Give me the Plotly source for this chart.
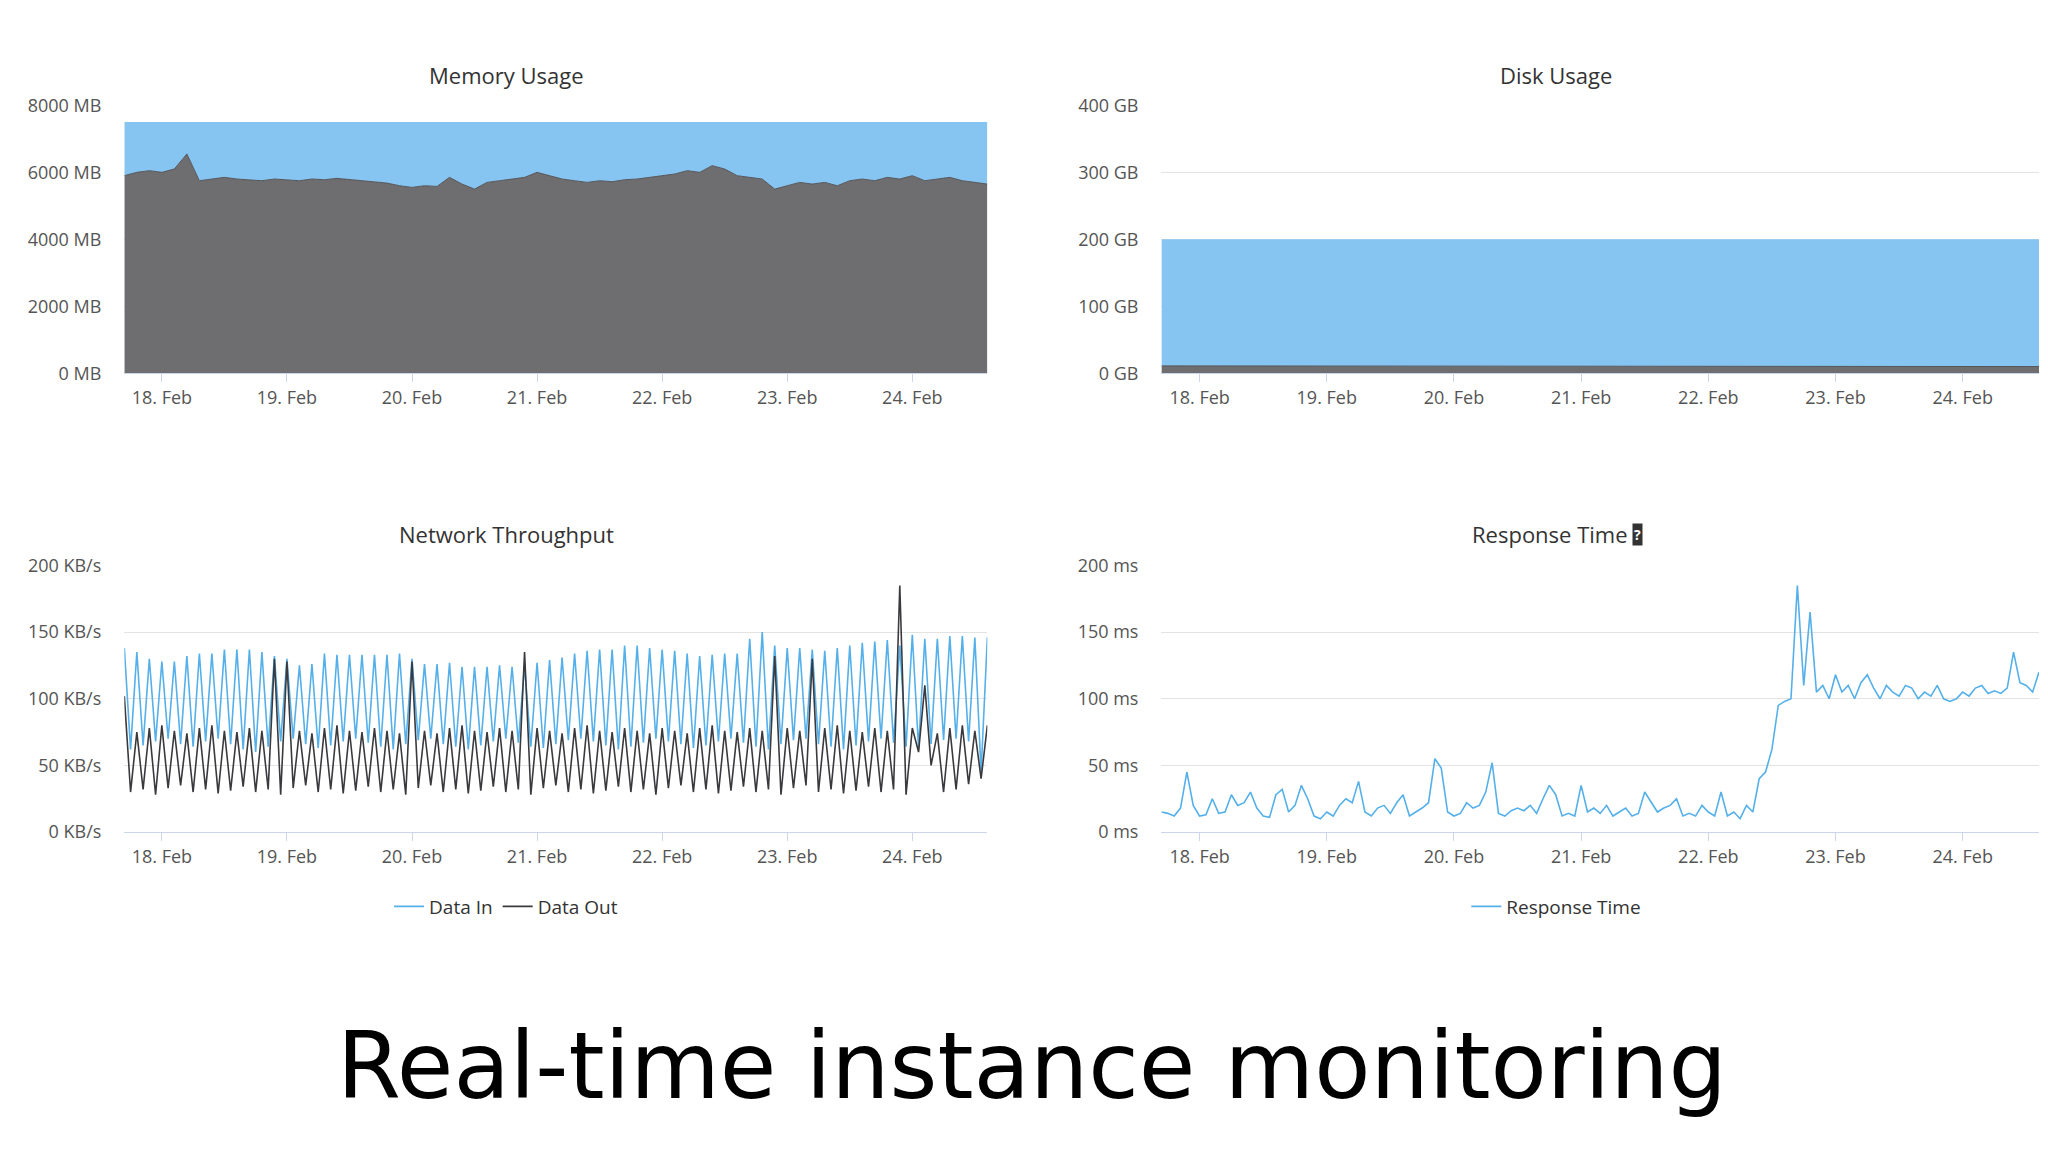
import pandas as pd
import plotly.graph_objects as go

# ---- data ----
mem_used = [5900, 6000, 6050, 6000, 6100, 6550, 5750, 5800, 5850, 5800,
            5780, 5750, 5800, 5780, 5750, 5800, 5780, 5820, 5780, 5750,
            5700, 5680, 5600, 5550, 5600, 5580, 5850, 5650, 5500, 5700,
            5750, 5800, 5850, 6000, 5900, 5800, 5750, 5700, 5750, 5720,
            5780, 5800, 5850, 5900, 5950, 6050, 6000, 6200, 6100, 5900,
            5850, 5800, 5500, 5600, 5700, 5650, 5700, 5600, 5750, 5800,
            5750, 5850, 5800, 5900, 5750, 5800, 5850, 5750, 5700, 5650]
mem_total = 7500

disk_used = [11, 11, 10, 10, 10, 10, 10, 10]
disk_total = 200

in_peaks = [138, 135, 130, 128, 128, 132, 134, 134, 137, 137,
            137, 135, 132, 130, 125, 126, 134, 133, 133, 133,
            133, 133, 134, 130, 126, 126, 127, 124, 124, 124,
            125, 124, 125, 127, 129, 131, 134, 136, 137, 137,
            140, 140, 138, 137, 136, 134, 132, 133, 134, 134,
            145, 150, 140, 138, 138, 137, 136, 138, 140, 142,
            143, 144, 140, 148, 145, 145, 147, 147, 146, 146]
in_troughs = [62, 65, 68, 70, 66, 64, 68, 70, 66, 62,
              60, 64, 68, 70, 66, 63, 65, 68, 70, 67,
              64, 62, 66, 69, 70, 66, 64, 62, 65, 68,
              70, 67, 64, 63, 66, 69, 70, 68, 65, 62,
              64, 67, 70, 68, 66, 63, 65, 68, 70, 67,
              64, 62, 66, 69, 70, 66, 64, 62, 65, 68,
              70, 67, 64, 63, 66, 69, 70, 68, 45]
out_peaks = [102, 75, 78, 80, 76, 74, 78, 80, 76, 75,
             78, 76, 130, 128, 76, 74, 78, 80, 76, 75,
             78, 76, 74, 128, 76, 74, 78, 80, 76, 75,
             78, 76, 135, 78, 76, 74, 78, 80, 76, 75,
             78, 76, 74, 78, 76, 74, 78, 80, 76, 75,
             78, 76, 132, 78, 76, 130, 78, 80, 76, 75,
             78, 76, 185, 78, 110, 74, 78, 80, 76, 80]
out_troughs = [30, 32, 28, 33, 35, 30, 32, 29, 31, 34,
               30, 32, 28, 33, 35, 30, 32, 29, 31, 34,
               30, 32, 28, 33, 35, 30, 32, 29, 31, 34,
               30, 32, 28, 33, 35, 30, 32, 29, 31, 34,
               30, 32, 28, 33, 35, 30, 32, 29, 31, 34,
               30, 32, 28, 33, 35, 30, 32, 29, 31, 34,
               30, 32, 28, 60, 50, 30, 32, 36, 40]

resp = [15, 14, 12, 18, 45, 20, 12, 13, 25, 14,
        15, 28, 20, 22, 30, 18, 12, 11, 28, 32,
        15, 20, 35, 25, 12, 10, 15, 12, 20, 25,
        22, 38, 15, 12, 18, 20, 14, 22, 28, 12,
        15, 18, 22, 55, 48, 15, 12, 14, 22, 18,
        20, 30, 52, 14, 12, 16, 18, 16, 20, 14,
        25, 35, 28, 12, 14, 12, 35, 15, 18, 14,
        20, 12, 15, 18, 12, 14, 30, 22, 15, 18,
        20, 25, 12, 14, 12, 20, 15, 12, 30, 12,
        15, 10, 20, 15, 40, 45, 62, 95, 98, 100,
        185, 110, 165, 105, 110, 100, 118, 105, 110, 100,
        112, 118, 108, 100, 110, 105, 102, 110, 108, 100,
        105, 102, 110, 100, 98, 100, 105, 102, 108, 110,
        104, 106, 104, 108, 135, 112, 110, 105, 120]

start = pd.Timestamp("2017-02-17 16:48")
t_fine = pd.date_range(start, periods=len(resp), freq="72min")
t_mem = pd.date_range(start, periods=len(mem_used), freq="144min")
t_disk = pd.date_range(start, periods=len(disk_used), freq="1D")

data_in = []
data_out = []
for i in range(len(in_peaks)):
    data_in.append(in_peaks[i]); data_out.append(out_peaks[i])
    if i < len(in_troughs):
        data_in.append(in_troughs[i]); data_out.append(out_troughs[i])

BLUE_FILL = "#86c5f1"
BLUE_SW = "#4fb3ec"
BLUE = "#55b0ea"
DARK = "#3a3a3e"
GRAYFILL = "#6e6d70"

fig = go.Figure()
# memory
fig.add_trace(go.Scatter(x=t_mem, y=mem_used, name="Memory Used", stackgroup="m",
                         line=dict(color="#555558", width=1), fillcolor=GRAYFILL,
                         xaxis="x", yaxis="y", showlegend=False))
fig.add_trace(go.Scatter(x=t_mem, y=[mem_total - v for v in mem_used], name="Memory Free",
                         stackgroup="m", line=dict(color=BLUE_FILL, width=0),
                         fillcolor=BLUE_FILL, xaxis="x", yaxis="y", showlegend=False))
fig.add_trace(go.Bar(x=[], y=[], name="Memory Free", marker_color=BLUE_SW,
                     xaxis="x", yaxis="y", legend="legend"))
fig.add_trace(go.Bar(x=[], y=[], name="Memory Used", marker_color=DARK,
                     xaxis="x", yaxis="y", legend="legend"))
# disk
fig.add_trace(go.Scatter(x=t_disk, y=disk_used, name="Disk Used", stackgroup="d",
                         line=dict(color="#555558", width=1), fillcolor=GRAYFILL,
                         xaxis="x2", yaxis="y2", showlegend=False))
fig.add_trace(go.Scatter(x=t_disk, y=[disk_total - v for v in disk_used], name="Disk Free",
                         stackgroup="d", line=dict(color=BLUE_FILL, width=0),
                         fillcolor=BLUE_FILL, xaxis="x2", yaxis="y2", showlegend=False))
fig.add_trace(go.Bar(x=[], y=[], name="Disk Free", marker_color=BLUE_SW,
                     xaxis="x2", yaxis="y2", legend="legend2"))
fig.add_trace(go.Bar(x=[], y=[], name="Disk Used", marker_color=DARK,
                     xaxis="x2", yaxis="y2", legend="legend2"))
# network
fig.add_trace(go.Scatter(x=t_fine, y=data_in, name="Data In", mode="lines",
                         line=dict(color=BLUE, width=1.6), xaxis="x3", yaxis="y3", legend="legend3"))
fig.add_trace(go.Scatter(x=t_fine, y=data_out, name="Data Out", mode="lines",
                         line=dict(color=DARK, width=1.6), xaxis="x3", yaxis="y3", legend="legend3"))
# response
fig.add_trace(go.Scatter(x=t_fine, y=resp, name="Response Time", mode="lines",
                         line=dict(color=BLUE, width=1.6), xaxis="x4", yaxis="y4", legend="legend4"))

xr = [start, start + pd.Timedelta(hours=24 * 6.9)]
tickfont = dict(family="Open Sans", size=18, color="#555")
def xax(dom, anchor):
    return dict(domain=dom, anchor=anchor, range=xr, type="date", dtick=86400000,
                tick0="2017-02-18", tickformat="%d. %b", showgrid=False, showline=True,
                linecolor="#ccd6eb", ticks="outside", tickcolor="#ccd6eb", ticklen=8,
                tickfont=tickfont)
def yax(dom, anchor, rng, dt, suf):
    return dict(domain=dom, anchor=anchor, range=rng, dtick=dt, ticksuffix=suf,
                showgrid=True, gridcolor="#e3e3e3", zeroline=False, tickfont=tickfont,
                ticklabelstandoff=22)

L = [0.0568, 0.4782]
R = [0.5632, 0.9917]
T = [0.6877, 0.9252]
B = [0.281, 0.5173]
fig.update_layout(
    xaxis=xax(L, "y"), yaxis=yax(T, "x", [0, 8000], 2000, " MB"),
    xaxis2=xax(R, "y2"), yaxis2=yax(T, "x2", [0, 400], 100, " GB"),
    xaxis3=xax(L, "y3"), yaxis3=yax(B, "x3", [0, 200], 50, " KB/s"),
    xaxis4=xax(R, "y4"), yaxis4=yax(B, "x4", [0, 200], 50, " ms"),
    barmode="overlay",
)
legfont = dict(family="Open Sans", size=19, color="#333")
def leg(x, y):
    return dict(x=x, y=y, xanchor="center", yanchor="middle", orientation="h",
                font=legfont, bgcolor="rgba(0,0,0,0)", traceorder="normal")
fig.update_layout(legend=leg(0.2432, 0.6228), legend2=leg(0.756, 0.6228),
                  legend3=leg(0.2432, 0.215), legend4=leg(0.756, 0.215))

titlefont = dict(family="Open Sans", size=22, color="#333")
for x, y, txt in [(0.2432, 0.9519, "Memory Usage"), (0.756, 0.9519, "Disk Usage"),
                  (0.2432, 0.5452, "Network Throughput"), (0.7530, 0.5452, "Response Time")]:
    fig.add_annotation(x=x, y=y, xref="paper", yref="paper", text=txt, showarrow=False,
                       xanchor="center", yanchor="middle", font=titlefont)
fig.add_annotation(x=0.7956, y=0.5452, xref="paper", yref="paper", text="<b>?</b>",
                   showarrow=False, xanchor="center", yanchor="middle",
                   font=dict(family="Open Sans", size=14, color="white"),
                   bgcolor="#333", borderpad=1)
fig.add_annotation(x=0.5, y=0.0735, xref="paper", yref="paper",
                   text="Real-time instance monitoring", showarrow=False,
                   xanchor="center", yanchor="middle",
                   font=dict(family="DejaVu Sans", size=92, color="black"))

fig.update_layout(width=2048, height=1152, paper_bgcolor="white", plot_bgcolor="white",
                  margin=dict(l=0, r=0, t=0, b=0))
fig.write_html("out.html")
